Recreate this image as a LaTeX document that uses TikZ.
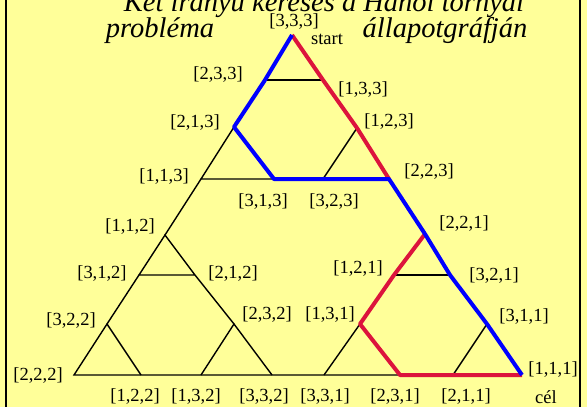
\documentclass[tikz,border=0pt]{standalone}
\usepackage{fontspec}
\setmainfont{Liberation Serif}
\definecolor{slideyellow}{HTML}{FFFF99}
\definecolor{wayblue}{HTML}{0000FF}
\definecolor{wayred}{HTML}{DC143C}

\begin{document}
\begin{tikzpicture}[
  x=1pt,
  y=-1pt,
  every node/.style={font=\fontsize{18.5}{20}\selectfont, inner sep=0pt},
  title/.style={font=\fontsize{28.5}{30}\selectfont\itshape, anchor=base},
  link/.style={black, line width=1.4pt},
  blueway/.style={wayblue, line width=4pt, line join=round},
  redway/.style={wayred, line width=4pt, line join=round}
]
  % ---- the slide ---------------------------------------------------------
  \useasboundingbox (0,0) rectangle (587,407);
  \fill[slideyellow] (0,0) rectangle (587,407);
  \draw[line width=2pt] (6,-10) rectangle (580,420);

  \node[title] (t1) at (324,11) {Két irányú keresés a Hanoi tornyai};
  \node[title] (t2) at (160,37) {probléma};
  \node[title] (t3) at (445,37) {állapotgráfján};

  % ---- the states --------------------------------------------------------
  \coordinate (v333) at (292,35);
  \coordinate (v233) at (265,80);
  \coordinate (v133) at (323,80);
  \coordinate (v213) at (234,127);
  \coordinate (v123) at (357,128);
  \coordinate (v113) at (201,179);
  \coordinate (v313) at (274,179);
  \coordinate (v323) at (323,179);
  \coordinate (v223) at (389,179);
  \coordinate (v112) at (165,235);
  \coordinate (v221) at (425,234);
  \coordinate (v312) at (139,275);
  \coordinate (v212) at (195,275);
  \coordinate (v121) at (394,275);
  \coordinate (v321) at (450,275);
  \coordinate (v322) at (107,324);
  \coordinate (v232) at (234,324);
  \coordinate (v131) at (360,324);
  \coordinate (v311) at (487,324);
  \coordinate (v222) at (74,375);
  \coordinate (v122) at (141,375);
  \coordinate (v132) at (201,375);
  \coordinate (v332) at (272,375);
  \coordinate (v331) at (324,375);
  \coordinate (v231) at (400,375);
  \coordinate (v211) at (453,375);
  \coordinate (v111) at (522,375);

  % ---- the moves ---------------------------------------------------------
  \draw[link] (v233) -- (v133);
  \draw[link] (v213) -- (v113) -- (v313);
  \draw[link] (v123) -- (v323);
  \draw[link] (v113) -- (v112);
  \draw[link] (v212) -- (v112) -- (v312) -- (v212) -- (v232);
  \draw[link] (v312) -- (v322) -- (v122);
  \draw[link] (v132) -- (v232) -- (v332);
  \draw[link] (v322) -- (v222) -- (v122) -- (v132) -- (v332) -- (v331)
    -- (v231);
  \draw[link] (v131) -- (v331);
  \draw[link] (v121) -- (v321);
  \draw[link] (v311) -- (v211);

  % ---- the two searches --------------------------------------------------
  \draw[redway] (v333) -- (v133) -- (v123) -- (v223);
  \draw[redway] (v221) -- (v121) -- (v131) -- (v231) -- (v211) -- (v111);
  \draw[blueway] (v333) -- (v233) -- (v213) -- (v313) -- (v323) -- (v223)
    -- (v221) -- (v321) -- (v311) -- (v111);

  % ---- the labels --------------------------------------------------------
  \node (l333) at (294,22) {[3,3,3]};
  \node (lstart) at (327,39) {start};
  \node (l233) at (218,75) {[2,3,3]};
  \node (l133) at (363,90) {[1,3,3]};
  \node (l213) at (195,123) {[2,1,3]};
  \node (l123) at (389,122) {[1,2,3]};
  \node (l113) at (164,177) {[1,1,3]};
  \node (l223) at (429,172) {[2,2,3]};
  \node (l313) at (263,202) {[3,1,3]};
  \node (l323) at (334,202) {[3,2,3]};
  \node (l112) at (130,227) {[1,1,2]};
  \node (l221) at (464,224) {[2,2,1]};
  \node (l312) at (102,274) {[3,1,2]};
  \node (l212) at (233,274) {[2,1,2]};
  \node (l121) at (358,269) {[1,2,1]};
  \node (l321) at (494,276) {[3,2,1]};
  \node (l322) at (71,321) {[3,2,2]};
  \node (l232) at (267,315) {[2,3,2]};
  \node (l131) at (330,315) {[1,3,1]};
  \node (l311) at (524,317) {[3,1,1]};
  \node (l222) at (38,376) {[2,2,2]};
  \node (l111) at (553,370) {[1,1,1]};
  \node (l122) at (135,397) {[1,2,2]};
  \node (l132) at (196,397) {[1,3,2]};
  \node (l332) at (264,397) {[3,3,2]};
  \node (l331) at (325,397) {[3,3,1]};
  \node (l231) at (395,397) {[2,3,1]};
  \node (l211) at (466,397) {[2,1,1]};
  \node (lgoal) at (546,397) {cél};
\end{tikzpicture}
\end{document}
